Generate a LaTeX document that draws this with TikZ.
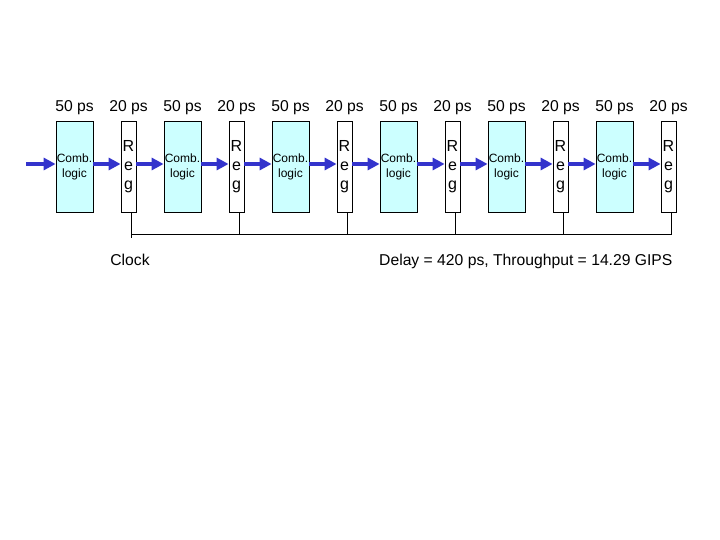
\documentclass[tikz,border=0pt]{standalone}
\usepackage{fontspec}
\setmainfont{Liberation Sans}
\usetikzlibrary{arrows.meta}
\definecolor{combfill}{HTML}{CCFFFF}
\definecolor{flowblue}{HTML}{3333CC}
\begin{document}
\begin{tikzpicture}[x=1pt, y=-1pt,
  comb/.style={draw, line width=0.8pt, fill=combfill, minimum width=37pt, minimum height=91pt, inner sep=0pt, align=center, font=\fontsize{12}{15}\selectfont},
  reg/.style={draw, line width=0.8pt, fill=white, minimum width=15pt, minimum height=91pt, inner sep=0pt, align=center, font=\fontsize{16}{19}\selectfont},
  flow/.style={-{Triangle[length=12pt, width=12pt]}, line width=4pt, flowblue},
  delay/.style={anchor=base, font=\fontsize{15.7}{18}\selectfont}]
\useasboundingbox (0,0) rectangle (720,540);

\def\period{108}
\def\ay{164}
\def\ky{234}

\coordinate (in) at (26,\ay);
\coordinate (clk) at (0,\ky);

% stages
\foreach \i in {1,...,6} {
  \node[comb] (c\i) at ({74.5+(\i-1)*\period},166.5) {Comb.\\logic};
  \node[reg] (r\i) at ({128.5+(\i-1)*\period},166.5) {R\\e\\g};
  \node[delay] (tc\i) at ([yshift=9pt]c\i.north) {50 ps};
  \node[delay] (tr\i) at ([yshift=9pt]r\i.north) {20 ps};
}

% data flow
\draw[flow] (in) -- (in -| c1.west);
\foreach \i in {1,...,6}
  \draw[flow] (c\i.east |- in) -- (r\i.west |- in);
\foreach \i/\j in {1/2,2/3,3/4,4/5,5/6}
  \draw[flow] (r\i.east |- in) -- (c\j.west |- in);

% clock
\draw[line width=0.8pt] ([xshift=2.5pt]r1.south) -- ++(0,26);
\draw[line width=0.8pt] ([xshift=2.5pt]r1.south |- clk) -- ([xshift=3pt]r6.south |- clk);
\foreach \i in {2,...,6}
  \draw[line width=0.8pt] ([xshift=2.5pt]r\i.south) -- ([xshift=2.5pt]r\i.south |- clk);

\node[delay] (clock) at (130,265) {Clock};
\node[delay, anchor=base east] (perf) at (676,265) {Delay = 420 ps, Throughput = 14.29 GIPS};
\end{tikzpicture}
\end{document}
